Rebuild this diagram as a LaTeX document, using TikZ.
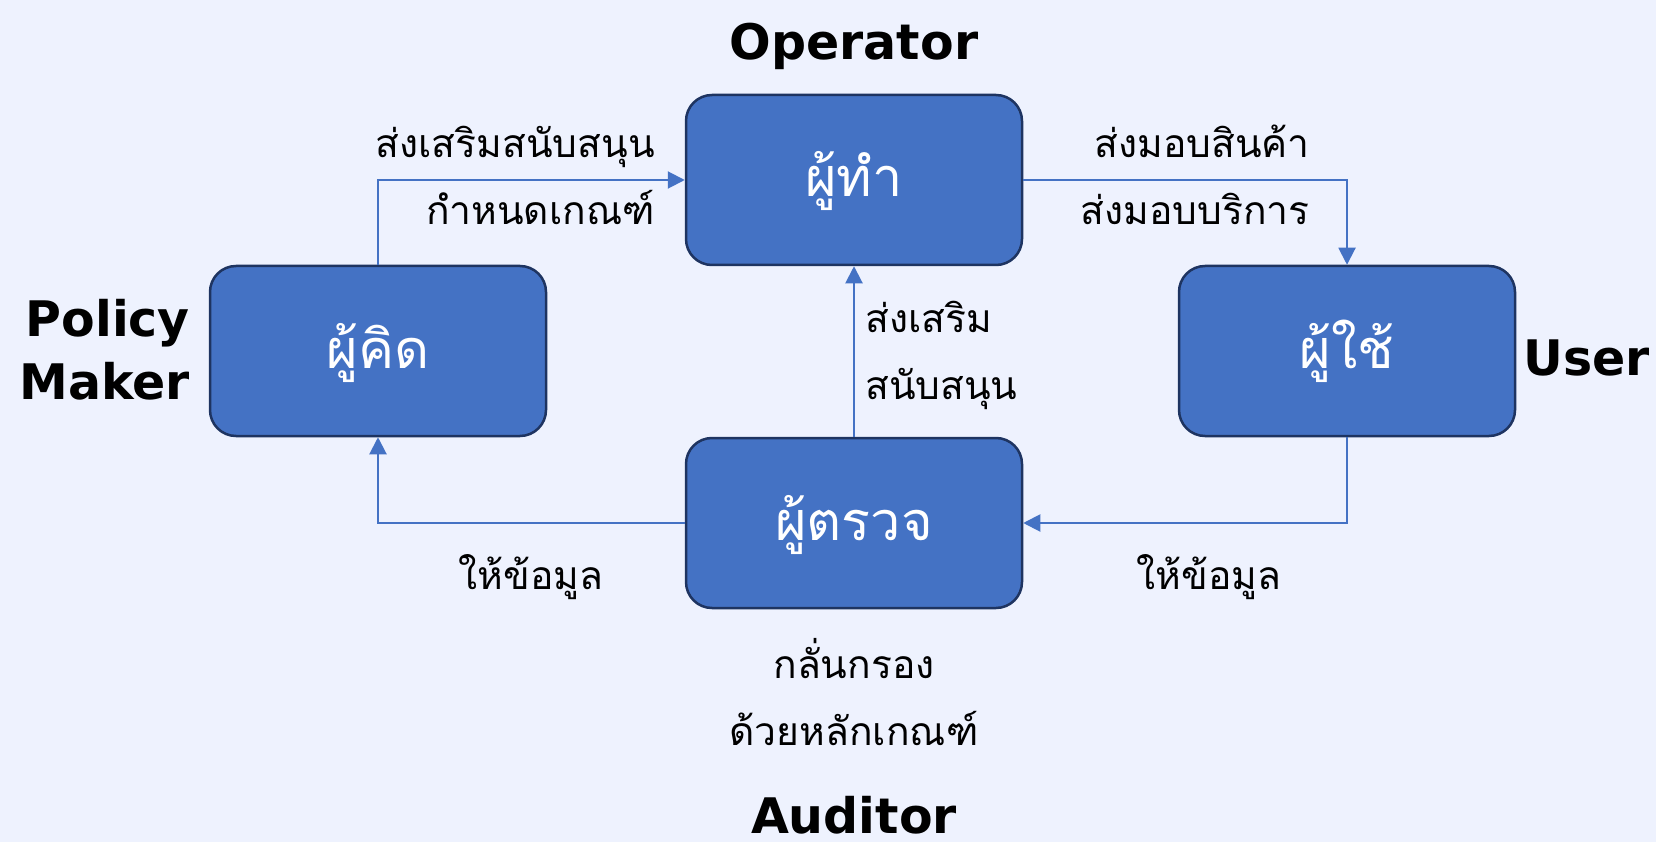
\documentclass[tikz,border=0pt]{standalone}
\usepackage{fontspec}
\setmainfont{DejaVu Sans}
\newfontfamily\thaifont[Script=Thai]{Loma}
\newfontfamily\engbold{DejaVu Sans Bold}
\usetikzlibrary{arrows.meta}
\definecolor{bg}{HTML}{EEF2FE}
\definecolor{boxfill}{HTML}{4472C4}
\definecolor{boxline}{HTML}{1E3461}
\definecolor{conn}{HTML}{4472C4}
\tikzset{
  rolebox/.style={draw=boxline, line width=2.5pt, fill=boxfill, rounded corners=26pt,
    minimum width=336pt, minimum height=170pt, inner sep=0pt},
  boxtext/.style={text=white, font=\thaifont\fontsize{54}{60}\selectfont, anchor=base, inner sep=0pt},
  lbl/.style={text=black, font=\thaifont\fontsize{39}{44}\selectfont, inner sep=0pt},
  role/.style={text=black, font=\engbold\fontsize{49}{54}\selectfont, inner sep=0pt},
  flow/.style={draw=conn, line width=2pt, -{Triangle[length=17pt,width=17pt]}},
}
\begin{document}
\begin{tikzpicture}[x=1pt,y=-1pt]
\useasboundingbox[fill=bg] (0,0) rectangle (1656,842);
\node[rolebox] (op) at (854,180) {};
\node[rolebox] (pm) at (378,351) {};
\node[rolebox] (us) at (1347,351) {};
\node[rolebox] (au) at (854,523) {};
\node[boxtext] (opt) at (854,197) {ผู้ทำ};
\node[boxtext] (pmt) at (378,368) {ผู้คิด};
\node[boxtext] (ust) at (1347,368) {ผู้ใช้};
\node[boxtext] (aut) at (854,540) {ผู้ตรวจ};
\draw[flow] (pm.north) |- (op.west);
\draw[flow] (op.east) -| (us.north);
\draw[flow] (us.south) |- (au.east);
\draw[flow] (au.west) -| (pm.south);
\draw[flow] (au.north) -- (op.south);
\node[role, anchor=base] (rop) at (854,60) {Operator};
\node[role, anchor=base east] (rpm1) at (190,336) {Policy};
\node[role, anchor=base east] (rpm2) at (190,399) {Maker};
\node[role, anchor=base west] (rus) at (1523,375) {User};
\node[role, anchor=base] (rau) at (854,833) {Auditor};
\node[lbl, anchor=base east] (l1a) at (655,158) {ส่งเสริมสนับสนุน};
\node[lbl, anchor=base east] (l1b) at (655,225) {กำหนดเกณฑ์};
\node[lbl, anchor=base east] (l2a) at (1310,158) {ส่งมอบสินค้า};
\node[lbl, anchor=base east] (l2b) at (1310,225) {ส่งมอบบริการ};
\node[lbl, anchor=base west] (l3a) at (865,332) {ส่งเสริม};
\node[lbl, anchor=base west] (l3b) at (865,399) {สนับสนุน};
\node[lbl, anchor=base] (l4) at (531,589) {ให้ข้อมูล};
\node[lbl, anchor=base] (l5) at (1209,589) {ให้ข้อมูล};
\node[lbl, anchor=base] (l6a) at (854,678) {กลั่นกรอง};
\node[lbl, anchor=base] (l6b) at (854,745) {ด้วยหลักเกณฑ์};
\end{tikzpicture}
\end{document}
